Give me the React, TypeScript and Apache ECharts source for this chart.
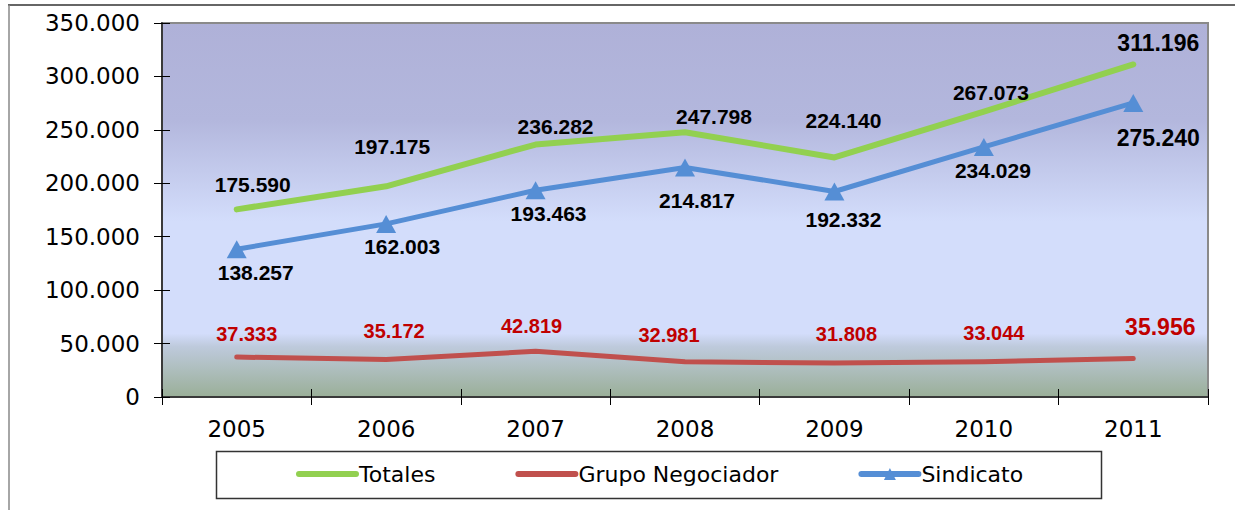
import React, { useEffect, useRef } from "react";
import * as echarts from "echarts";

const categories = ["2005", "2006", "2007", "2008", "2009", "2010", "2011"];
const totales = [175590, 197175, 236282, 247798, 224140, 267073, 311196];
const grupoNegociador = [37333, 35172, 42819, 32981, 31808, 33044, 35956];
const sindicato = [138257, 162003, 193463, 214817, 192332, 234029, 275240];
const seriesNames = ["Totales", "Grupo Negociador", "Sindicato"];

// label placement (offsets from each point, in px)
const totalesLabelOffsets = [[16, -25], [6, -40], [20, -18], [29, -16], [9, -37], [7, -19], [25, -21]];
const sindicatoLabelOffsets = [[19, 23], [16, 23], [13, 23], [12, 33], [9, 28], [9, 24], [25, 35]];
const grupoLabelOffsets = [[10, -23], [8, -28], [-4, -25], [-16, -27], [12, -29], [10, -29], [27, -32]];

const fmt = (v: number) => (v === 0 ? "0" : (v / 1000).toFixed(3));

export default function App() {
  const ref = useRef<HTMLDivElement>(null);
  useEffect(() => {
    if (!ref.current) return;
    const chart = echarts.init(ref.current, null, { renderer: "svg" });
    const mk = (vals: number[], offs: number[][], base: number, big: number) =>
      vals.map((v, i) => ({
        value: v,
        label: { offset: offs[i], fontSize: i === vals.length - 1 ? big : base },
      }));
    const labelBase = {
      show: true,
      position: "inside",
      fontFamily: "Liberation Sans",
      fontWeight: "bold",
      formatter: (p: any) => fmt(p.value),
    };
    const regFont = "DejaVu Sans";
    chart.setOption({
      animation: false,
      grid: {
        left: 162,
        top: 23,
        right: 27,
        bottom: 113,
        show: true,
        borderColor: "#8a8a8a",
        borderWidth: 2,
        backgroundColor: new echarts.graphic.LinearGradient(0, 0, 0, 1, [
          { offset: 0, color: "#AFB1D8" },
          { offset: 0.26, color: "#B3B7DD" },
          { offset: 0.53, color: "#D3DDFB" },
          { offset: 0.83, color: "#D3DDFB" },
          { offset: 0.865, color: "#BECADC" },
          { offset: 1, color: "#9AAF98" },
        ]),
      },
      xAxis: [
        {
          type: "category",
          data: categories,
          boundaryGap: true,
          axisLine: { show: true, lineStyle: { color: "#3a3a3a", width: 2 } },
          axisTick: { show: true, length: 8, inside: false, lineStyle: { color: "#000", width: 1 } },
          axisLabel: { margin: 20, fontFamily: regFont, fontSize: 23, color: "#000" },
          splitLine: { show: false },
        },
        {
          type: "category",
          data: categories,
          position: "bottom",
          boundaryGap: true,
          axisLine: { show: false },
          axisTick: { show: true, length: 8, inside: true, lineStyle: { color: "#000", width: 1 } },
          axisLabel: { show: false },
          splitLine: { show: false },
        },
      ],
      yAxis: [
        {
          type: "value",
          min: 0,
          max: 350000,
          interval: 50000,
          axisLine: { show: true, lineStyle: { color: "#3a3a3a", width: 2 } },
          axisTick: { show: true, length: 8, inside: false, lineStyle: { color: "#000", width: 1 } },
          axisLabel: { margin: 22, fontFamily: regFont, fontSize: 23, color: "#000", formatter: fmt },
          splitLine: { show: false },
        },
        {
          type: "value",
          min: 0,
          max: 350000,
          interval: 50000,
          position: "left",
          axisLine: { show: false },
          axisTick: { show: true, length: 8, inside: true, lineStyle: { color: "#000", width: 1 } },
          axisLabel: { show: false },
          splitLine: { show: false },
        },
      ],
      legend: {
        data: [
          { name: seriesNames[0], itemStyle: { opacity: 0 }, lineStyle: { width: 6, cap: "round" } },
          { name: seriesNames[1], itemStyle: { opacity: 0 }, lineStyle: { width: 6, cap: "round" } },
          { name: seriesNames[2], lineStyle: { width: 6, cap: "round" } },
        ],
        left: 296,
        top: 463,
        padding: 0,
        itemWidth: 57,
        itemHeight: 15,
        itemGap: 80,
        textStyle: { fontFamily: regFont, fontSize: 22, color: "#000", padding: [0, 0, 0, -2] },
      },
      graphic: [
        {
          type: "rect",
          shape: { x: 216.5, y: 451.5, width: 885, height: 47 },
          style: { fill: "none", stroke: "#333", lineWidth: 1.5 },
          silent: true,
        },
        {
          type: "line",
          shape: { x1: 8, y1: 5, x2: 1235, y2: 5 },
          style: { stroke: "#333", lineWidth: 1.5 },
          silent: true,
        },
        {
          type: "line",
          shape: { x1: 9, y1: 5, x2: 9, y2: 510 },
          style: { stroke: "#888", lineWidth: 1.5 },
          silent: true,
        },
      ],
      series: [
        {
          name: seriesNames[0],
          type: "line",
          data: mk(totales, totalesLabelOffsets, 21, 23),
          symbol: "circle",
          symbolSize: 1,
          itemStyle: { color: "#92D050" },
          lineStyle: { color: "#92D050", width: 6, cap: "round", join: "round" },
          label: { ...labelBase, color: "#000" },
          z: 3,
        },
        {
          name: seriesNames[1],
          type: "line",
          data: mk(grupoNegociador, grupoLabelOffsets, 20, 23),
          symbol: "circle",
          symbolSize: 1,
          itemStyle: { color: "#C0504D" },
          lineStyle: { color: "#C0504D", width: 5, cap: "round", join: "round" },
          label: { ...labelBase, color: "#C00000" },
          z: 3,
        },
        {
          name: seriesNames[2],
          type: "line",
          data: mk(sindicato, sindicatoLabelOffsets, 21, 23),
          symbol: "triangle",
          symbolSize: [20, 18],
          itemStyle: { color: "#558ED5" },
          lineStyle: { color: "#558ED5", width: 5, cap: "round", join: "round" },
          label: { ...labelBase, color: "#000" },
          z: 4,
        },
      ],
    });
    return () => chart.dispose();
  }, []);
  return (
    <div
      ref={ref}
      style={{ position: "absolute", left: 0, top: 0, width: 1235, height: 510, background: "#fff" }}
    />
  );
}
